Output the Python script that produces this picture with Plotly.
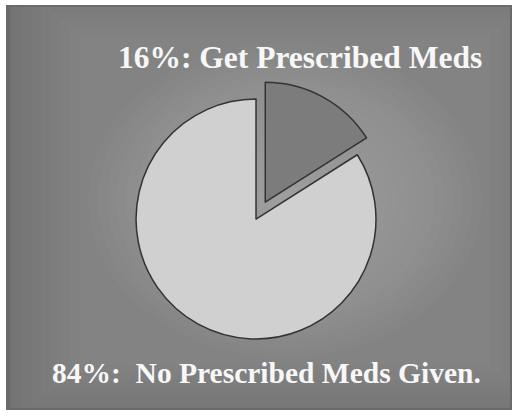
import plotly.graph_objects as go

labels = ["Get Prescribed Meds", "No Prescribed Meds Given."]
values = [16, 84]
label_texts = ["16%: Get Prescribed Meds", "84%:  No Prescribed Meds Given."]
slice_colors = ["#7c7c7c", "#d0d0d0"]
pulls = [0.16, 0]

W, H = 516, 416

fig = go.Figure()
fig.add_trace(go.Pie(
    labels=labels, values=values, sort=False, direction="clockwise", rotation=0,
    pull=pulls, textinfo="none", hoverinfo="label+percent",
    marker=dict(colors=slice_colors, line=dict(color="#333333", width=1.5)),
    domain=dict(x=[0.2264, 0.7659], y=[0.139, 0.808]),
    showlegend=False,
))

def px(x): return x / W
def py(y): return 1 - y / H

shapes = [dict(type="rect", xref="paper", yref="paper", x0=px(6), x1=px(512), y0=py(410), y1=py(5),
               fillcolor="#6a6a6a", line=dict(width=0), layer="below")]
cx, cy = 285, 200
n = 32
for i in range(n):
    f = 1 - i / n
    rx, ry = 300 * f, 240 * f
    x0, x1 = max(cx - rx, 10), min(cx + rx, 510)
    y0, y1 = max(cy - ry, 7), min(cy + ry, 408)
    shapes.append(dict(type="rect" if (rx > 200) else "circle", xref="paper", yref="paper",
                       x0=px(x0), x1=px(x1), y0=py(y1), y1=py(y0),
                       fillcolor="rgba(195,195,195,0.035)", line=dict(width=0), layer="below"))

font_family = "Liberation Serif, Times New Roman, serif"
annotations = [
    dict(text=label_texts[0], xref="paper", yref="paper", x=px(300), y=py(58), showarrow=False,
         font=dict(family=font_family, size=31.5, color="#f7f7f7", weight="bold"),
         xanchor="center", yanchor="middle"),
    dict(text=label_texts[1], xref="paper", yref="paper", x=px(266), y=py(373), showarrow=False,
         font=dict(family=font_family, size=29.5, color="#f7f7f7", weight="bold"),
         xanchor="center", yanchor="middle"),
]

fig.update_layout(width=W, height=H, margin=dict(l=0, r=0, t=0, b=0),
                  paper_bgcolor="white", plot_bgcolor="white",
                  shapes=shapes, annotations=annotations)
fig.write_html("out.html")
